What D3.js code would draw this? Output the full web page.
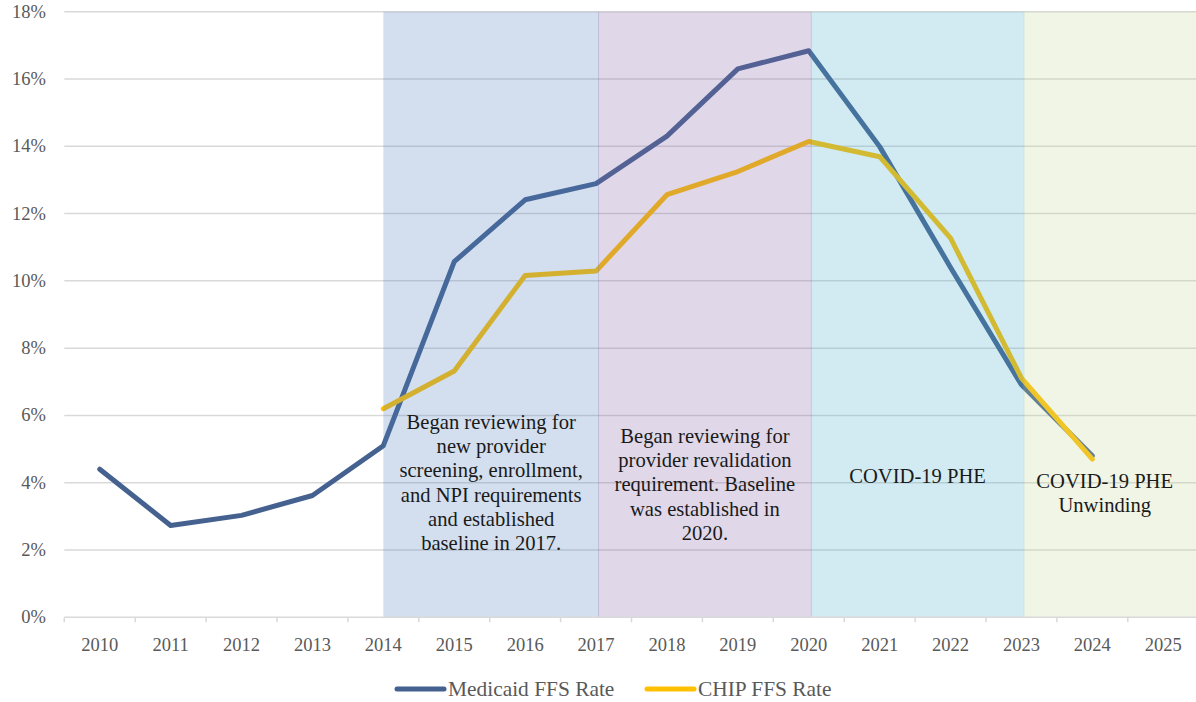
<!DOCTYPE html>
<html>
<head>
<meta charset="utf-8">
<script src="https://cdn.jsdelivr.net/npm/d3@7"></script>
<style>
  html, body { margin: 0; padding: 0; background: #fff; }
  svg { display: block; }
  text { font-family: "Liberation Serif", "DejaVu Serif", serif; }
</style>
</head>
<body>
<svg id="chart" width="1196" height="702"></svg>
<script>
// ---- Data ----
const years = ["2010","2011","2012","2013","2014","2015","2016","2017","2018","2019","2020","2021","2022","2023","2024","2025"];
const medicaidYears = ["2010","2011","2012","2013","2014","2015","2016","2017","2018","2019","2020","2021","2022","2023","2024"];
const medicaidRates = [4.4, 2.73, 3.03, 3.62, 5.1, 10.57, 12.41, 12.89, 14.3, 16.3, 16.84, 13.99, 10.4, 6.91, 4.8];
const chipYears = ["2014","2015","2016","2017","2018","2019","2020","2021","2022","2023","2024"];
const chipRates = [6.2, 7.32, 10.16, 10.29, 12.56, 13.25, 14.14, 13.69, 11.27, 7.11, 4.7];
const yTicks = [0, 2, 4, 6, 8, 10, 12, 14, 16, 18];
const phaseStarts = ["2014", "2017", "2020", "2023"];
const phaseEnds = ["2017", "2020", "2023", null];
const phaseColors = ["#4f81bd", "#8464a4", "#4bacc6", "#c4d79b"];
const phaseLabels = [
  ["Began reviewing for", "new provider", "screening, enrollment,", "and NPI requirements", "and established", "baseline in 2017."],
  ["Began reviewing for", "provider revalidation", "requirement. Baseline", "was established in", "2020."],
  ["COVID-19 PHE"],
  ["COVID-19 PHE", "Unwinding"]
];
const phaseLabelTop = [423, 437, 477, 482];
const seriesNames = ["Medicaid FFS Rate", "CHIP FFS Rate"];
const seriesColors = ["#44618f", "#ffc000"];

// ---- Scales ----
const svg = d3.select("#chart");
const x = d3.scaleBand().domain(years).range([64.3, 64.3 + 16 * 70.9]);
const y = d3.scaleLinear().domain([0, 18]).range([617.3, 11.7]);
const cx = d => x(d) + x.bandwidth() / 2;

// gridlines
svg.append("g").selectAll("line").data(yTicks.filter(d => d > 0)).join("line")
  .attr("x1", x.range()[0]).attr("x2", 1196)
  .attr("y1", d => y(d)).attr("y2", d => y(d))
  .attr("stroke", "#d9d9d9").attr("stroke-width", 1.5);

// lines
const lineGen = d3.line().x(d => cx(d[0])).y(d => y(d[1]));
const series = [
  d3.zip(medicaidYears, medicaidRates),
  d3.zip(chipYears, chipRates)
];
svg.append("g").selectAll("path").data(series).join("path")
  .attr("d", d => lineGen(d))
  .attr("fill", "none")
  .attr("stroke", (d, i) => seriesColors[i])
  .attr("stroke-width", 5)
  .attr("stroke-linejoin", "round")
  .attr("stroke-linecap", "round");

// phase shading (semi-transparent overlay)
const edge = (d, i) => cx(d) + (i > 0 ? 2 : 0);
const phases = phaseStarts.map((s, i) => ({
  x0: edge(s, i),
  x1: phaseEnds[i] ? edge(phaseEnds[i], i + 1) + 1 : x.range()[1],
  color: phaseColors[i],
  label: phaseLabels[i],
  top: phaseLabelTop[i]
}));
svg.append("g").selectAll("rect").data(phases).join("rect")
  .attr("x", d => d.x0).attr("width", d => d.x1 - d.x0)
  .attr("y", y(18)).attr("height", y(0) - y(18))
  .attr("fill", d => d.color).attr("fill-opacity", 0.25);

// x axis baseline + ticks
svg.append("line")
  .attr("x1", x.range()[0]).attr("x2", 1196)
  .attr("y1", y(0)).attr("y2", y(0))
  .attr("stroke", "#d9d9d9").attr("stroke-width", 1.5);
svg.append("g").selectAll("line").data(years).join("line")
  .attr("x1", d => x(d)).attr("x2", d => x(d))
  .attr("y1", y(0)).attr("y2", y(0) + 5)
  .attr("stroke", "#d9d9d9").attr("stroke-width", 1.5);

// x labels
svg.append("g").selectAll("text").data(years).join("text")
  .attr("x", d => cx(d)).attr("y", 651)
  .attr("text-anchor", "middle")
  .attr("font-size", 18.5).attr("fill", "#595959")
  .text(d => d);

// y labels
svg.append("g").selectAll("text").data(yTicks).join("text")
  .attr("x", 46).attr("y", d => y(d) + 6)
  .attr("text-anchor", "end")
  .attr("font-size", 18.5).attr("fill", "#595959")
  .text(d => d + "%");

// phase annotations
phases.forEach(p => {
  const t = svg.append("text")
    .attr("text-anchor", "middle")
    .attr("font-size", 20.6).attr("fill", "#1a1a1a");
  p.label.forEach((ln, j) => {
    t.append("tspan")
      .attr("x", (p.x0 + Math.min(p.x1, 1196)) / 2 - (p.x1 > 1196 ? 5 : 0))
      .attr("y", p.top + 6 + j * 24.2)
      .text(ln);
  });
});

// legend
const legendX = [397, 647];
const lg = svg.append("g").selectAll("g").data(seriesNames).join("g")
  .attr("transform", (d, i) => `translate(${legendX[i]},689)`);
lg.append("line")
  .attr("x1", 0).attr("x2", 47).attr("y1", 0).attr("y2", 0)
  .attr("stroke", (d, i) => seriesColors[i])
  .attr("stroke-width", 5).attr("stroke-linecap", "round");
lg.append("text")
  .attr("x", 51).attr("y", 7)
  .attr("font-size", 21.4).attr("fill", "#595959")
  .text(d => d);
</script>
</body>
</html>
